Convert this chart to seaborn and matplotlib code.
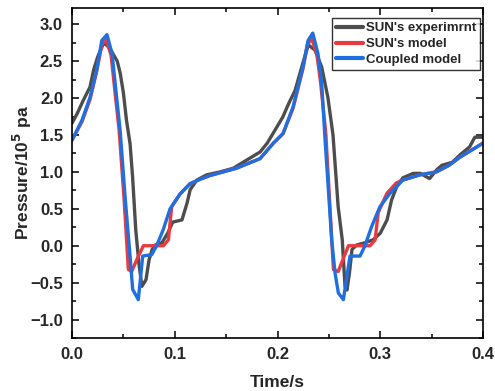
import numpy as np
import pandas as pd
import seaborn as sns
import matplotlib
matplotlib.use("Agg")
import matplotlib.pyplot as plt
from matplotlib.ticker import MultipleLocator

# ---- data ----
exp_t = [0.000, 0.005, 0.011, 0.0175, 0.021, 0.025, 0.030, 0.032, 0.037, 0.044,
         0.047, 0.050, 0.053, 0.0565, 0.059, 0.062, 0.065, 0.068, 0.072, 0.075,
         0.078, 0.081, 0.0875, 0.0935, 0.098, 0.107, 0.112, 0.115, 0.1215, 0.131,
         0.144, 0.157, 0.170, 0.183, 0.190, 0.196,
         0.205, 0.211, 0.217, 0.225, 0.230, 0.2365, 0.243, 0.249, 0.254, 0.259,
         0.263, 0.2657, 0.2676, 0.270, 0.2725, 0.277, 0.285, 0.293, 0.300, 0.3066,
         0.311, 0.316, 0.322, 0.332, 0.339, 0.348, 0.355, 0.360, 0.370, 0.3776,
         0.387, 0.392, 0.400]
exp_p = [1.66, 1.79, 1.97, 2.15, 2.38, 2.56, 2.72, 2.74, 2.67, 2.50,
         2.33, 2.07, 1.70, 1.38, 0.92, 0.22, -0.23, -0.55, -0.46, -0.19,
         -0.05, 0.01, 0.04, 0.18, 0.32, 0.35, 0.58, 0.76, 0.89, 0.96,
         1.00, 1.05, 1.16, 1.27, 1.39, 1.53,
         1.74, 1.93, 2.10, 2.49, 2.72, 2.65, 2.42, 2.01, 1.50, 0.53,
         0.08, -0.55, -0.60, -0.37, -0.05, 0.01, 0.04, 0.08, 0.17, 0.35,
         0.62, 0.80, 0.92, 0.98, 0.98, 0.91, 1.03, 1.09, 1.13, 1.23,
         1.34, 1.47, 1.47]

sun_t = [0.000, 0.0097, 0.0175, 0.024, 0.029, 0.033, 0.038, 0.043, 0.0458, 0.0505,
         0.0548, 0.058, 0.063, 0.0694, 0.0889, 0.0938, 0.097, 0.1051, 0.1148, 0.1245,
         0.134, 0.160, 0.183, 0.196,
         0.2054, 0.2151, 0.2248, 0.2290, 0.2333, 0.2384, 0.2420, 0.2470, 0.2510,
         0.2544, 0.259, 0.269, 0.290, 0.295, 0.298, 0.3065, 0.3155, 0.322, 0.3385,
         0.3545, 0.367, 0.3765, 0.400]
sun_p = [1.43, 1.68, 1.98, 2.36, 2.72, 2.80, 2.58, 1.93, 1.57, 0.67,
         -0.32, -0.35, -0.19, 0.00, 0.00, 0.08, 0.53, 0.70, 0.84, 0.90,
         0.95, 1.05, 1.18, 1.39,
         1.52, 1.86, 2.40, 2.72, 2.81, 2.58, 2.20, 1.52, 0.53,
         -0.32, -0.35, 0.00, 0.00, 0.08, 0.45, 0.71, 0.85, 0.89, 0.96,
         1.00, 1.09, 1.19, 1.39]

cpl_t = [0.000, 0.0097, 0.0175, 0.024, 0.029, 0.034, 0.039, 0.044, 0.0468, 0.0516,
         0.0565, 0.059, 0.0645, 0.0688, 0.0776, 0.0824, 0.0888, 0.0954, 0.1051, 0.1148,
         0.1245, 0.134, 0.160, 0.183, 0.196,
         0.2054, 0.2151, 0.2248, 0.2297, 0.2343, 0.2394, 0.2430, 0.2463, 0.2495,
         0.2527, 0.2560, 0.2592, 0.2641, 0.2705, 0.2803, 0.2851, 0.2916, 0.2997,
         0.3095, 0.3192, 0.3222, 0.3385, 0.3545, 0.367, 0.3765, 0.400]
cpl_p = [1.43, 1.70, 2.01, 2.38, 2.78, 2.86, 2.60, 1.93, 1.57, 0.67,
         -0.14, -0.59, -0.73, -0.14, -0.12, 0.00, 0.22, 0.50, 0.70, 0.84,
         0.90, 0.95, 1.05, 1.18, 1.39,
         1.52, 1.88, 2.42, 2.78, 2.88, 2.60, 2.20, 1.43, 0.76,
         0.08, -0.37, -0.64, -0.73, -0.14, -0.14, 0.00, 0.26, 0.53,
         0.71, 0.85, 0.89, 0.96, 1.00, 1.09, 1.19, 1.39]

labels = ["SUN's experimrnt", "SUN's model", "Coupled model"]
colors = ["#4d4d4d", "#e83a3f", "#1f6fe0"]

# ---- figure ----
sns.set_theme(style="ticks")
plt.rcParams['font.family'] = ['Liberation Sans', 'DejaVu Sans']
plt.rcParams['font.weight'] = 'bold'
plt.rcParams['axes.labelweight'] = 'bold'
plt.rcParams['mathtext.default'] = 'bf'

fig = plt.figure(figsize=(4.95, 3.91), dpi=100)
ax = fig.add_axes([0.1455, 0.1355, 0.8303, 0.844])

for t, p, lab, c in zip([exp_t, sun_t, cpl_t], [exp_p, sun_p, cpl_p], labels, colors):
    df = pd.DataFrame({"t": t, "p": p})
    sns.lineplot(data=df, x="t", y="p", ax=ax, color=c, lw=2.4, label=lab,
                 sort=False, estimator=None)

ax.set_xlim(0.0, 0.4)
ax.set_ylim(-1.25, 3.22)
ax.xaxis.set_major_locator(MultipleLocator(0.1))
ax.xaxis.set_minor_locator(MultipleLocator(0.05))
ax.yaxis.set_major_locator(MultipleLocator(0.5))
ax.yaxis.set_minor_locator(MultipleLocator(0.25))
ax.set_xticks([0.0, 0.1, 0.2, 0.3, 0.4])
ax.set_xticklabels(["0.0", "0.1", "0.2", "0.3", "0.4"])
ax.tick_params(which='both', direction='in', top=True, right=True, width=1.1,
               color='black', labelsize=12, pad=6.5)
ax.tick_params(which='major', length=5)
ax.tick_params(which='minor', length=3)
for lbl in ax.get_xticklabels() + ax.get_yticklabels():
    lbl.set_fontweight('bold')
for s in ax.spines.values():
    s.set_linewidth(1.2)
    s.set_color('black')

ax.set_xlabel("Time/s", fontsize=12.5, fontweight='bold', labelpad=9)
ax.set_ylabel("Pressure/10$^5$ pa", fontsize=12.5, fontweight='bold')
ax.yaxis.set_label_coords(-0.093, 0.5)

leg = ax.legend(loc='upper right', bbox_to_anchor=(0.9927, 0.9697), borderaxespad=0,
                prop={'weight': 'bold', 'size': 9.5}, frameon=True,
                fancybox=False, edgecolor='black', borderpad=0.3, handlelength=2.05,
                handletextpad=0.2, labelspacing=0.28)
leg.get_frame().set_linewidth(1.0)
for line in leg.get_lines():
    line.set_linewidth(3.0)

fig.savefig("out.png", dpi=100)
